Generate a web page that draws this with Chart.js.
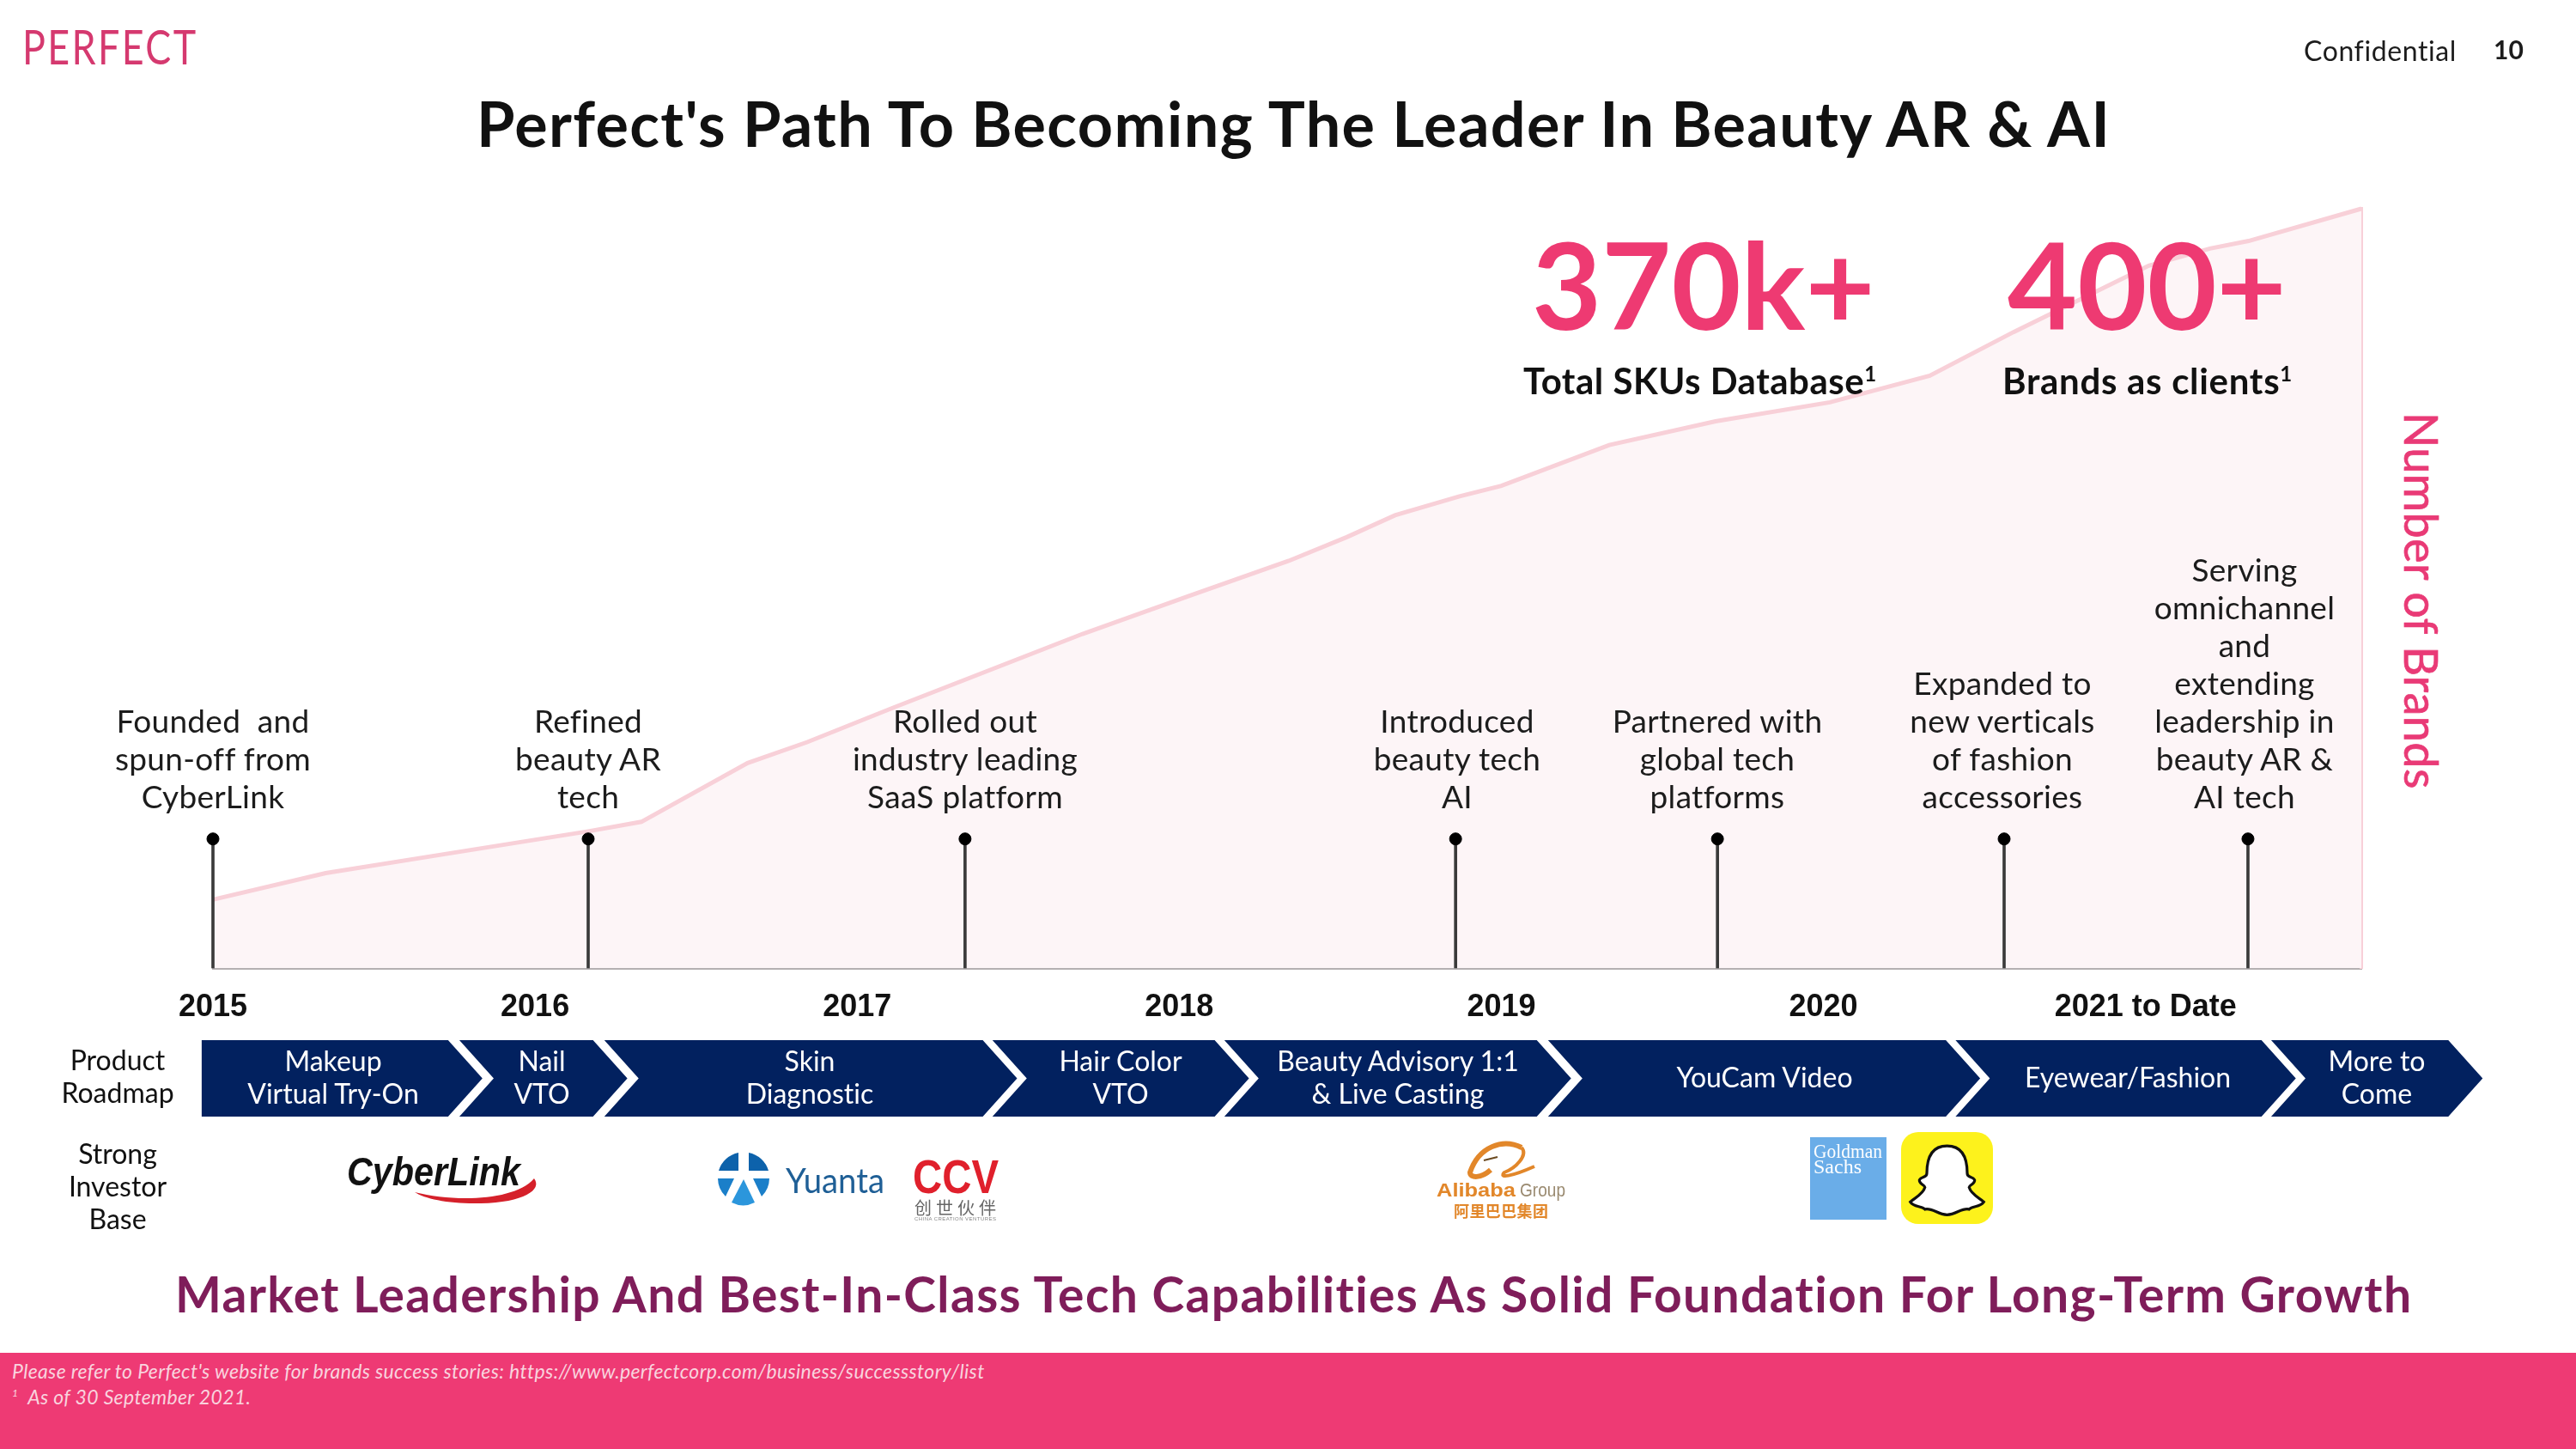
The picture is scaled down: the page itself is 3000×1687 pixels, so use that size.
<!DOCTYPE html>
<html>
<head>
<meta charset="utf-8">
<title>Perfect's Path To Becoming The Leader In Beauty AR & AI</title>
<script src="https://cdn.jsdelivr.net/npm/chart.js@4"></script>
<style>
  html, body { margin: 0; padding: 0; background: #fff; }
  #page { position: relative; width: 3000px; height: 1687px; overflow: hidden; font-family: Lato, sans-serif; color: #1c1c1c; font-variant-ligatures: none; }
  #trendChart { position: absolute; left: 0; top: 0; }
  .t { position: absolute; white-space: pre; text-align: center; }
  .note { font-size: 37px; line-height: 44px; letter-spacing: 0.3px; transform: translateX(-50%); bottom: 738px; }
  .road { font-size: 32px; line-height: 38px; color: #fff; transform: translate(-50%, -50%); top: 1254px; }
  .side { font-size: 32px; line-height: 38px; transform: translateX(-50%); left: 137px; color: #111; }
  #footer { position: absolute; left: 0; top: 1575px; width: 3000px; height: 112px; background: #ee3a74; }
  #logos { position: absolute; left: 0; top: 0; }
</style>
</head>
<body>
<div id="page">
  <canvas id="trendChart" width="3000" height="1687"></canvas>

  <div class="t" style="left:26px;top:20px;font-size:56px;letter-spacing:3px;color:#d5396f;transform:scaleX(0.8);transform-origin:left top;">PERFECT</div>
  <div class="t" style="left:2683px;top:39px;font-size:32px;letter-spacing:0.6px;">Confidential</div>
  <div class="t" style="left:2904px;top:39px;font-size:30px;font-weight:700;">10</div>
  <div class="t" style="left:555px;top:100px;font-size:72px;font-weight:700;letter-spacing:1.35px;color:#111;">Perfect's Path To Becoming The Leader In Beauty AR &amp; AI</div>

  <div class="t" style="left:1784px;top:246px;font-size:140px;font-weight:700;color:#ee3a72;">370k+</div>
  <div class="t" style="left:2338px;top:246px;font-size:140px;font-weight:700;color:#ee3a72;">400+</div>
  <div class="t" style="left:1774px;top:418px;font-size:42px;font-weight:700;letter-spacing:0.5px;color:#111;">Total SKUs Database<sup style="font-size:24px;">1</sup></div>
  <div class="t" style="left:2332px;top:418px;font-size:42px;font-weight:700;letter-spacing:0.7px;color:#111;">Brands as clients<sup style="font-size:24px;">1</sup></div>

  <div class="t" style="left:2788px;top:480px;font-size:54px;font-weight:400;letter-spacing:0.4px;color:#e93a76;-webkit-text-stroke:0.7px #e93a76;writing-mode:vertical-rl;">Number of Brands</div>

  <div class="t side" style="top:1215px;">Product<br>Roadmap</div>
  <div class="t side" style="top:1324px;">Strong<br>Investor<br>Base</div>

  <div class="t" style="left:204px;top:1472px;font-size:57px;font-weight:700;letter-spacing:1.35px;color:#7f1d5a;">Market Leadership And Best-In-Class Tech Capabilities As Solid Foundation For Long-Term Growth</div>

  <div id="footer">
    <div class="t" style="left:14px;top:7px;font-size:23px;font-style:italic;letter-spacing:0.35px;color:#f9d3de;">Please refer to Perfect's website for brands success stories: https://www.perfectcorp.com/business/successstory/list</div>
    <div class="t" style="left:14px;top:37px;font-size:23px;font-style:italic;letter-spacing:0.35px;color:#f9d3de;"><sup style="font-size:12px;">1</sup>  As of 30 September 2021.</div>
  </div>

  <svg id="logos" width="3000" height="1687" viewBox="0 0 3000 1687">
    <!-- CyberLink -->
    <text x="404" y="1380" font-family="Liberation Sans" font-style="italic" font-weight="700" font-size="47" fill="#111" textLength="202" lengthAdjust="spacingAndGlyphs">CyberLink</text>
    <path d="M483 1388 C530 1400 600 1398 622 1372 C632 1385 610 1400 560 1401 C525 1402 495 1396 483 1388 Z" fill="#d5202a"/>
    <!-- Yuanta -->
    <path d="M837 1363 A30 30 0 0 1 860 1342 L860 1363 Z M895 1363 A30 30 0 0 0 872 1342 L872 1363 Z" fill="#0d62ab"/>
    <path d="M836 1372 L855 1372 L845 1393 A30 30 0 0 1 836 1372 Z M896 1372 L877 1372 L887 1393 A30 30 0 0 0 896 1372 Z" fill="#1b7fc9"/>
    <path d="M866 1373 L879 1400 A30 30 0 0 1 852 1400 Z" fill="#2b96dc"/>
    <text x="915" y="1389" font-family="Lato" font-size="40" fill="#1f5f96" textLength="115" lengthAdjust="spacingAndGlyphs">Yuanta</text>
    <!-- CCV -->
    <text x="1063" y="1389" font-family="Liberation Sans" font-weight="700" font-size="56" fill="#e0202c" textLength="100" lengthAdjust="spacingAndGlyphs">CCV</text>
    <text x="1065" y="1414" font-family="Noto Sans CJK SC" font-size="20" fill="#666" textLength="95">创世伙伴</text>
    <text x="1065" y="1421" font-family="Liberation Sans" font-size="6" fill="#888" textLength="95">CHINA CREATION VENTURES</text>
    <!-- Alibaba -->
    <path d="M1772 1336 C1750 1325 1722 1335 1712 1365 C1712 1372 1725 1372 1736 1362" fill="none" stroke="#e2872a" stroke-width="6"/>
    <path d="M1772 1336 C1780 1345 1765 1360 1752 1365 C1745 1372 1760 1370 1787 1358" fill="none" stroke="#e2872a" stroke-width="4"/>
    <path d="M1728 1351 L1744 1347" fill="none" stroke="#6b4a20" stroke-width="2"/>
    <text x="1673" y="1393" font-family="Liberation Sans" font-weight="700" font-size="22" fill="#e2872a" textLength="92" lengthAdjust="spacingAndGlyphs">Alibaba</text>
    <text x="1770" y="1393" font-family="Liberation Sans" font-size="22" fill="#9a8a70" textLength="53" lengthAdjust="spacingAndGlyphs">Group</text>
    <text x="1693" y="1417" font-family="Noto Sans CJK SC" font-weight="700" font-size="18" fill="#e2872a" textLength="110">阿里巴巴集团</text>
    <!-- Goldman Sachs -->
    <rect x="2108" y="1324" width="89" height="96" fill="#6aade8"/>
    <text x="2112" y="1348" font-family="Liberation Serif" font-size="24" fill="#fff" textLength="80" lengthAdjust="spacingAndGlyphs">Goldman</text>
    <text x="2112" y="1366" font-family="Liberation Serif" font-size="24" fill="#fff" textLength="56" lengthAdjust="spacingAndGlyphs">Sachs</text>
    <!-- Snap -->
    <rect x="2214" y="1318" width="107" height="107" rx="20" fill="#fdf21c"/>
    <path transform="translate(2214 1318) scale(1.07)" d="M50 15 C32 15 28 30 28 45 C28 50 22 48 20 52 C19 56 26 58 26 60 C24 68 14 72 10 76 C14 82 22 80 26 84 C34 82 40 90 50 90 C60 90 66 82 74 84 C78 80 86 82 90 76 C86 72 76 68 74 60 C74 58 81 56 80 52 C78 48 72 50 72 45 C72 30 68 15 50 15 Z" fill="#fff" stroke="#111" stroke-width="3"/>
  </svg>
</div>

<script>
// Number of brands over time (axis runs in years)
var brandYears = [2015.00, 2015.35, 2015.72, 2016.165, 2016.33, 2016.66, 2016.845, 2017.11, 2017.70, 2018.03, 2018.34, 2018.52, 2018.67, 2018.87, 2019.00, 2019.335, 2019.665, 2020.02, 2020.33, 2020.59, 2020.83, 2021.01, 2021.20, 2021.32, 2021.67];
var brandCounts = [36, 50, 60, 72, 77, 108, 119, 137, 176, 196, 214.5, 227, 238.5, 248.5, 254, 275.5, 288, 298, 312, 335, 355, 370, 379, 383, 400];

var tickYears = [2015, 2016, 2017, 2018, 2019, 2020, 2021];
var tickLabels = ['2015', '2016', '2017', '2018', '2019', '2020', '2021 to Date'];

// Milestones on the timeline
var milestoneYears = [2015.00, 2016.165, 2017.335, 2018.858, 2019.671, 2020.561, 2021.318];
var milestoneHeights = [68, 68, 68, 68, 68, 68, 68];
var milestoneText = [
    ['Founded  and', 'spun-off from', 'CyberLink'],
    ['Refined', 'beauty AR', 'tech'],
    ['Rolled out', 'industry leading', 'SaaS platform'],
    ['Introduced', 'beauty tech', 'AI'],
    ['Partnered with', 'global tech', 'platforms'],
    ['Expanded to', 'new verticals', 'of fashion', 'accessories'],
    ['Serving', 'omnichannel', 'and', 'extending', 'leadership in', 'beauty AR &', 'AI tech']
];

// Product roadmap: each chevron starts and ends at these years
var roadmapStarts = [2014.965, 2015.765, 2016.215, 2017.42, 2018.14, 2019.145, 2020.41, 2021.39];
var roadmapEnds = [2015.73, 2016.18, 2017.39, 2018.11, 2019.11, 2020.38, 2021.36, 2021.94];
var roadmapText = [
    ['Makeup', 'Virtual Try-On'],
    ['Nail', 'VTO'],
    ['Skin', 'Diagnostic'],
    ['Hair Color', 'VTO'],
    ['Beauty Advisory 1:1', '& Live Casting'],
    ['YouCam Video'],
    ['Eyewear/Fashion'],
    ['More to', 'Come']
];

function toPoints(xs, ys) {
    return xs.map(function(x, i) { return { x: x, y: ys[i] }; });
}

// Chevron band under the axis, positioned through the year scale
var roadmapPlugin = {
    id: 'roadmap',
    afterDraw: function(chart) {
        var ctx = chart.ctx;
        var xScale = chart.scales.x;
        var top = 1211, bottom = 1300, mid = (top + bottom) / 2;
        ctx.save();
        ctx.fillStyle = '#02215f';
        roadmapStarts.forEach(function(start, i) {
            var left = xScale.getPixelForValue(start);
            var right = xScale.getPixelForValue(roadmapEnds[i]);
            var tip = 40;
            ctx.beginPath();
            ctx.moveTo(left, top);
            ctx.lineTo(right, top);
            ctx.lineTo(right + tip, mid);
            ctx.lineTo(right, bottom);
            ctx.lineTo(left, bottom);
            if (i > 0) ctx.lineTo(left + tip, mid);
            ctx.closePath();
            ctx.fill();
        });
        ctx.restore();
    }
};

new Chart(document.getElementById('trendChart').getContext('2d'), {
    type: 'line',
    data: {
        datasets: [
            {
                label: 'Brands',
                data: toPoints(brandYears, brandCounts),
                borderColor: '#f8d0d8',
                backgroundColor: '#fdf5f7',
                borderWidth: 5,
                pointRadius: 0,
                tension: 0,
                fill: 'origin',
                clip: false,
                order: 3
            },
            {
                type: 'bar',
                label: 'Stems',
                data: toPoints(milestoneYears, milestoneHeights),
                backgroundColor: '#3a3a3a',
                barThickness: 3,
                clip: false,
                order: 2
            },
            {
                type: 'scatter',
                label: 'Milestones',
                data: toPoints(milestoneYears, milestoneHeights),
                backgroundColor: '#000',
                borderColor: '#000',
                pointRadius: 7,
                clip: false,
                order: 1
            }
        ]
    },
    options: {
        responsive: false,
        animation: false,
        layout: { padding: { left: 248, right: 250, top: 243, bottom: 500 } },
        plugins: { legend: { display: false }, tooltip: { enabled: false } },
        scales: {
            x: {
                type: 'linear',
                offset: false,
                min: 2015,
                max: 2021.67,
                afterFit: function(scale) { scale.paddingLeft = 0; scale.paddingRight = 0; scale.height = 60; },
                afterBuildTicks: function(scale) {
                    scale.ticks = tickYears.map(function(y) { return { value: y }; });
                },
                grid: { display: false, drawTicks: false },
                border: { display: true, color: '#b5b0b2', width: 3 },
                ticks: {
                    color: '#111',
                    autoSkip: false,
                    maxRotation: 0,
                    padding: 24,
                    font: { family: 'Liberation Sans', weight: 'bold', size: 36 },
                    callback: function(value) { return tickLabels[tickYears.indexOf(value)]; }
                }
            },
            y: {
                position: 'right',
                min: 0,
                max: 400,
                afterFit: function(scale) { scale.width = 0; },
                grid: { display: false, drawTicks: false },
                border: { display: true, color: '#f8d0d8', width: 4 },
                ticks: { display: false }
            }
        }
    },
    plugins: [roadmapPlugin]
});

// Text placed over the chart
var noteCenters = [248, 685, 1124, 1697, 2000, 2332, 2614];
var roadCenters = [388, 631, 943, 1305, 1628, 2055, 2478, 2768];

function addLabel(parent, cls, x, lines) {
    var el = document.createElement('div');
    el.className = 't ' + cls;
    el.style.left = x + 'px';
    el.innerHTML = lines.map(function(s) { return s.replace(/&/g, '&amp;'); }).join('<br>');
    parent.appendChild(el);
}

var page = document.getElementById('page');
milestoneText.forEach(function(lines, i) { addLabel(page, 'note', noteCenters[i], lines); });
roadmapText.forEach(function(lines, i) { addLabel(page, 'road', roadCenters[i], lines); });
</script>
</body>
</html>
